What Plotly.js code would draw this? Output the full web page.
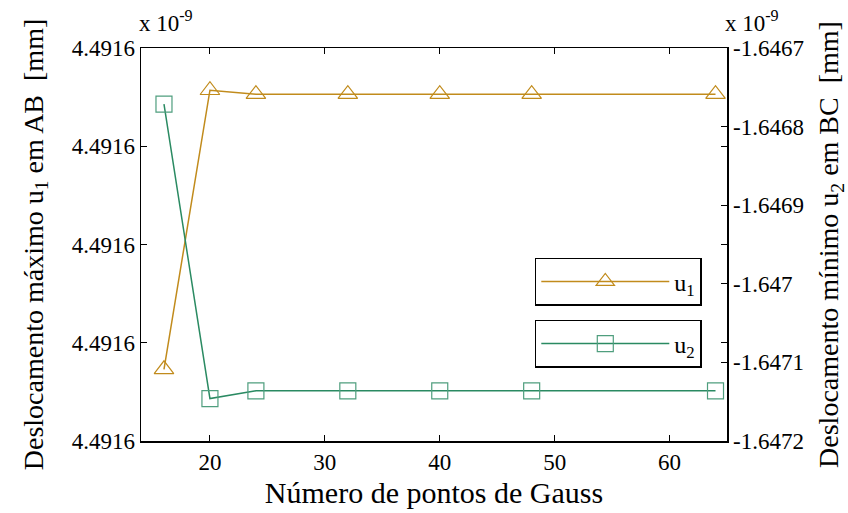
<!DOCTYPE html>
<html>
<head>
<meta charset="utf-8">
<script src="https://cdn.plot.ly/plotly-3.0.1.min.js"></script>
<style>html,body{margin:0;padding:0;background:#fff;}#chart{width:848px;height:513px;}</style>
</head>
<body>
<div id="chart"></div>
<script>
// Data (values in units of 1e-9 mm)
const gaussPoints = [16, 20, 24, 32, 40, 48, 64];
const u1Values = [4.4915873, 4.4916157, 4.4916153, 4.4916153, 4.4916153, 4.4916153, 4.4916153];
const u2Values = [-1.6467714, -1.6471460, -1.6471362, -1.6471362, -1.6471362, -1.6471362, -1.6471362];
const xTickVals = [20, 30, 40, 50, 60];
const leftTickVals = [4.49158, 4.49159, 4.49160, 4.49161, 4.49162];
const leftTickText = ["4.4916", "4.4916", "4.4916", "4.4916", "4.4916"];
const rightTickVals = [-1.6472, -1.6471, -1.6470, -1.6469, -1.6468, -1.6467];
const rightTickText = ["-1.6472", "-1.6471", "-1.647", "-1.6469", "-1.6468", "-1.6467"];

const gold = "#c18b1c";
const green = "#2a8a62";
const FONT = "'Liberation Serif', 'Times New Roman', serif";

const traces = [
  {
    x: gaussPoints, y: u1Values, name: "u<sub>1</sub>", yaxis: "y", legend: "legend",
    mode: "lines+markers",
    line: {color: gold, width: 1.5},
    marker: {symbol: "triangle-up-open", size: 17, color: gold, line: {color: gold, width: 1.2}}
  },
  {
    x: gaussPoints, y: u2Values, name: "u<sub>2</sub>", yaxis: "y2", legend: "legend2",
    mode: "lines+markers",
    line: {color: green, width: 1.5},
    marker: {symbol: "square-open", size: 16, color: "#4f9e7e", line: {color: "#4f9e7e", width: 1.2}}
  }
];

const layout = {
  width: 848, height: 513,
  margin: {l: 141, r: 121, t: 48, b: 72},
  paper_bgcolor: "#fff", plot_bgcolor: "#fff",
  font: {family: FONT, size: 23, color: "#000"},
  showlegend: true,
  xaxis: {
    range: [14, 65], tickvals: xTickVals, ticks: "inside", ticklen: 6, tickcolor: "#000",
    showline: true, linecolor: "#000", linewidth: 1.5, mirror: "ticks", showgrid: false, zeroline: false,
    tickfont: {family: FONT, size: 23},
    title: {text: "Número de pontos de Gauss", font: {family: FONT, size: 30}, standoff: 8}
  },
  yaxis: {
    range: [4.49158, 4.49162], tickvals: leftTickVals, ticktext: leftTickText,
    ticks: "inside", ticklen: 6, tickcolor: "#000",
    showline: true, linecolor: "#000", linewidth: 1.5, mirror: "ticks", showgrid: false, zeroline: false,
    tickfont: {family: FONT, size: 23},
    title: {text: "Deslocamento máximo u<sub>1</sub> em AB  [mm]", font: {family: FONT, size: 28}, standoff: 20}
  },
  yaxis2: {
    overlaying: "y", side: "right",
    range: [-1.6472, -1.6467], tickvals: rightTickVals, ticktext: rightTickText,
    ticks: "inside", ticklen: 6, tickcolor: "#000",
    showline: true, linecolor: "#000", linewidth: 1.5, showgrid: false, zeroline: false,
    tickfont: {family: FONT, size: 23},
    title: {text: "Deslocamento mínimo u<sub>2</sub> em BC  [mm]", font: {family: FONT, size: 28}, standoff: 16}
  },
  legend: {
    x: 0.672, y: 0.466, xanchor: "left", yanchor: "top",
    bordercolor: "#000", borderwidth: 1.5, bgcolor: "#fff",
    font: {family: FONT, size: 24}, itemwidth: 128
  },
  legend2: {
    x: 0.672, y: 0.308, xanchor: "left", yanchor: "top",
    bordercolor: "#000", borderwidth: 1.5, bgcolor: "#fff",
    font: {family: FONT, size: 24}, itemwidth: 128
  },
  annotations: [
    {xref: "paper", yref: "paper", x: 0, y: 1, xanchor: "left", yanchor: "bottom", yshift: 10, xshift: -4,
     text: "x 10<sup>-9</sup>", showarrow: false, font: {family: FONT, size: 23}},
    {xref: "paper", yref: "paper", x: 1, y: 1, xanchor: "left", yanchor: "bottom", yshift: 10, xshift: -4,
     text: "x 10<sup>-9</sup>", showarrow: false, font: {family: FONT, size: 23}}
  ]
};

Plotly.newPlot("chart", traces, layout, {displayModeBar: false, staticPlot: true});
</script>
</body>
</html>
